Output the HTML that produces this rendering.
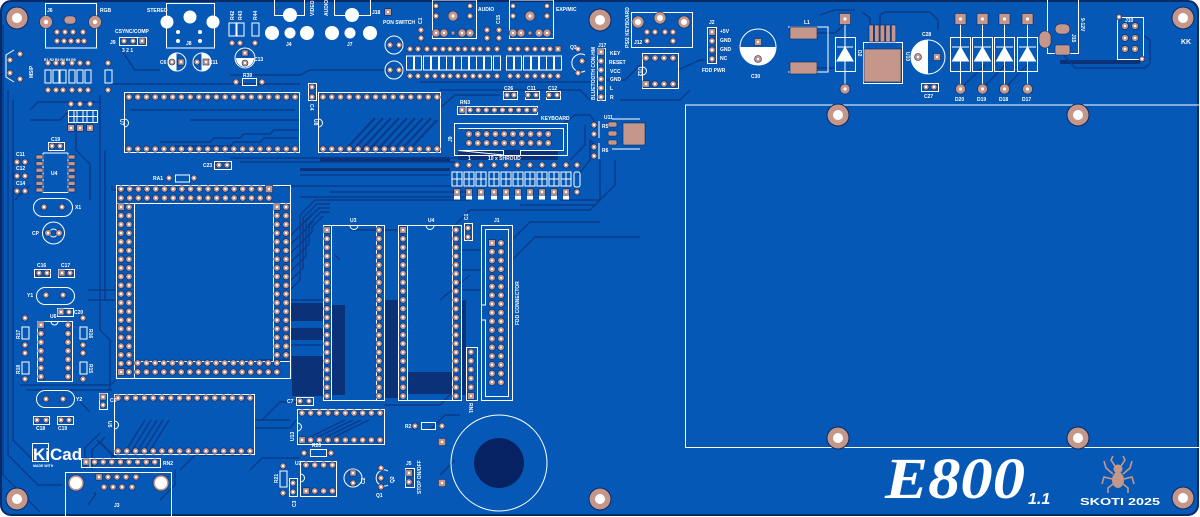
<!DOCTYPE html>
<html><head><meta charset="utf-8">
<style>
html,body{margin:0;padding:0;background:#fff;width:1200px;height:517px;overflow:hidden}
svg{display:block}
text{font-family:"Liberation Sans",sans-serif;font-weight:bold;fill:#fff}
</style></head>
<body>
<svg id="s" xmlns="http://www.w3.org/2000/svg" width="1200" height="517" viewBox="0 0 1200 517">
<!-- board -->
<rect x="1" y="1" width="1197" height="514" rx="10" fill="#0558b5" stroke="#0a2a66" stroke-width="2"/>

<!-- dark fill zones -->
<g fill="#0b3279">
<rect x="290" y="303" width="33" height="18"/>
<rect x="290" y="328" width="33" height="12"/>
<rect x="292" y="356" width="31" height="40"/>
<rect x="331" y="305" width="14" height="90"/>
<rect x="384" y="300" width="14" height="98"/>
<rect x="407" y="372" width="45" height="22"/>
<rect x="461" y="300" width="5" height="95"/>
<rect x="320" y="157" width="130" height="5"/>
<rect x="300" y="168" width="150" height="3"/>
<rect x="458" y="150" width="100" height="10"/>
<rect x="1060" y="60" width="80" height="4"/>
</g>
<circle cx="499" cy="463" r="25" fill="#072262"/>

<!-- traces -->
<g fill="none" stroke="#0a3a8a" stroke-width="1.4">
<path d="M3,25 V475 L40,512"/>
<path d="M8,90 V455 L38,485 H62"/>
<path d="M13,100 V440 L35,462"/>
<path d="M100,95 V330 L110,340 V390"/>
<path d="M105,150 V300"/>
<path d="M88,290 H115"/>
<path d="M88,300 H115"/>
<path d="M30,110 L38,102 H100"/>
<path d="M110,84 H300"/>
<path d="M230,75 H300 L310,70 H390"/>
<path d="M120,48 L135,70 H160"/>
<path d="M160,142 H210 L214,138 H240 L244,134 H270 L274,130 H300"/>
<path d="M175,146 H230 L234,142 H260 L264,138 H298"/>
<path d="M190,120 H300"/>
<path d="M130,110 H295"/>
<path d="M230,158 H460"/>
<path d="M240,162 H455"/>
<path d="M300,175 H450"/>
<path d="M130,190 H112 V186"/>
<path d="M280,186 H470"/>
<path d="M330,192 H470"/>
<path d="M300,197 H470"/>
<path d="M290,290 L300,280 V215 L315,200 H470"/>
<path d="M290,281 L303,268 V218 L317,204 H330"/>
<path d="M290,272 L306,256 V221 L319,208 H330"/>
<path d="M290,263 L309,244 V224 L321,212 H330"/>
<path d="M290,254 L312,232 V227 L323,216"/>
<path d="M290,245 L314,221"/>
<path d="M290,236 L312,214"/>
<path d="M290,300 H323"/>
<path d="M290,345 H323"/>
<path d="M461,250 H481"/>
<path d="M461,270 H481"/>
<path d="M461,290 H481"/>
<path d="M440,300 L470,275"/>
<path d="M455,225 L470,210 H590 L600,200 V160"/>
<path d="M564,123 L575,115 H590 L597,125"/>
<path d="M570,160 L585,145 V125"/>
<path d="M578,175 L590,160 V140 L597,147"/>
<path d="M605,80 H625 L640,65"/>
<path d="M678,70 L700,60 H705"/>
<path d="M620,100 H680 L690,90"/>
<path d="M420,82 H600"/>
<path d="M440,90 H580 L590,100"/>
<path d="M820,15 L835,10 H855"/>
<path d="M880,25 V15 L885,12 H930 L938,20 V30"/>
<path d="M870,25 V18 L862,12"/>
<path d="M1062,53 L1075,68 H1145 L1150,63 V40 L1143,35"/>
<path d="M960,89 L985,65"/>
<path d="M982,89 L1005,65"/>
<path d="M1004,89 L1027,65"/>
<path d="M817,33 H835 L845,24"/>
<path d="M817,68 H836"/>
<path d="M125,452 L145,420"/><path d="M131,452 L151,420"/><path d="M137,452 L157,420"/><path d="M143,452 L163,420"/><path d="M149,452 L169,420"/>
<path d="M310,437 L345,420"/><path d="M318,437 L353,420"/><path d="M326,437 L361,420"/><path d="M334,437 L369,420"/>
<path d="M85,470 V448 L100,433"/>
<path d="M92,470 V450 L105,437"/>
<path d="M88,505 L95,495 V492"/>
<path d="M160,500 L175,485 V470"/>
<path d="M255,420 H290"/>
<path d="M255,428 H290 L296,420"/>
<path d="M384,405 H440 L460,385"/>
<path d="M430,430 L445,415 H460"/>
<path d="M440,475 L455,460"/>
<path d="M340,260 L335,255"/><path d="M350,230 L400,230"/>
<path d="M20,385 H110 L116,380"/>
<path d="M26,390 H112"/>
<path d="M90,412 L80,402"/>
<path d="M260,360 H290"/>
<path d="M262,420 L280,402 H296"/>
<path d="M97,440 L112,455 V462"/>
<path d="M100,442 L118,460"/>
<path d="M250,470 L262,458 H300"/>
<path d="M180,470 L195,455 H250"/>
<path d="M560,200 H600 L615,185 V160"/>
<path d="M520,205 H595"/>
<path d="M512,240 L530,222 H600"/>
<path d="M512,260 L535,237 H640"/>
<path d="M440,108 L455,95 H500"/>
<path d="M30,120 H60 L68,112"/>
<path d="M15,200 L30,185"/>
<path d="M76,130 V150 L90,164 V200"/>
</g>
<g fill="none" stroke="#0a3a8a" stroke-width="2.2">
<path d="M345,150 L375,118"/><path d="M353,150 L383,118"/><path d="M361,150 L391,118"/><path d="M369,150 L399,118"/><path d="M377,150 L407,118"/><path d="M385,150 L415,118"/><path d="M393,150 L423,118"/><path d="M401,150 L431,118"/><path d="M409,150 L437,120"/>
</g>

<!-- LCD outline -->
<path d="M1199,105 H685.5 V447.5 H1199" fill="none" stroke="#fff" stroke-width="1"/>

<!-- silkscreen -->
<g fill="none" stroke="#fff" stroke-width="1">
<rect x="45.5" y="3.5" width="51" height="44.5"/>
<rect x="119.5" y="37.5" width="27" height="8"/><line x1="137.5" y1="37.5" x2="137.5" y2="45.5"/>
<rect x="45" y="70" width="6" height="13"/><rect x="53" y="70" width="6" height="13"/><rect x="60" y="70" width="6" height="13"/><rect x="69" y="70" width="6" height="13"/><rect x="77" y="70" width="6" height="13"/><rect x="85" y="70" width="6" height="13"/>
<rect x="105" y="70" width="7" height="13"/>
<rect x="68.5" y="110.5" width="29" height="12"/><line x1="74" y1="110" x2="74" y2="123"/><line x1="77" y1="110" x2="77" y2="123"/><line x1="83" y1="110" x2="83" y2="123"/><line x1="87" y1="110" x2="87" y2="123"/><line x1="93" y1="110" x2="93" y2="123"/><line x1="68" y1="116.5" x2="98" y2="116.5"/>
<path d="M14,50 L6,55 V77 L14,82"/>
<path d="M43,153 H68 M43,192.5 H68 M43,153 V193 M68,153 V193"/>
<rect x="33.5" y="198.5" width="39" height="18" rx="9"/>
<circle cx="53.5" cy="233" r="11"/><circle cx="53.5" cy="233" r="4"/>
<rect x="36.5" y="287.5" width="38" height="17" rx="8.5"/>
<rect x="36.5" y="390.5" width="38" height="17" rx="8.5"/>
<rect x="34.5" y="269.5" width="16" height="8"/><rect x="58.5" y="269.5" width="16" height="8"/>
<rect x="57.5" y="308.5" width="16" height="8"/>
<rect x="33.5" y="416.5" width="16" height="8"/><rect x="57.5" y="416.5" width="16" height="8"/>
<rect x="48.5" y="142.5" width="16" height="8"/>
<rect x="37.5" y="321.5" width="35" height="60"/>
<path d="M51,321.5 A3.5,3.5 0 0 0 58,321.5"/>
<rect x="22" y="327" width="7" height="12"/><rect x="22" y="362" width="7" height="12"/>
<rect x="80" y="327" width="7" height="12"/><rect x="80" y="362" width="7" height="12"/>
<rect x="116.5" y="185.5" width="174" height="193"/>
<rect x="134.5" y="203.5" width="139" height="158"/>
<path d="M116.5,203.5 H134.5 M273.5,203.5 H290.5 M134.5,361.5 V378 M273.5,361.5 H290.5"/>
<rect x="175.5" y="175" width="14" height="7"/>
<rect x="214.5" y="161.5" width="17" height="8"/>
<rect x="166.5" y="3.5" width="48" height="44.5"/>
<circle cx="177" cy="62" r="9"/><circle cx="202" cy="62" r="9"/><circle cx="245" cy="58" r="10"/>
<circle cx="394" cy="45" r="9"/><circle cx="394" cy="70" r="9"/>
<rect x="229" y="23" width="7" height="13"/><rect x="237" y="23" width="7" height="13"/><rect x="252" y="23" width="7" height="13"/>
<path d="M274.5,0 V15.5 H304.5 V0"/><path d="M334.5,0 V15.5 H370.5 V0"/>
<rect x="242.5" y="78.5" width="14" height="7"/>
<rect x="308.5" y="83.5" width="8" height="17"/>
<rect x="124.5" y="92.5" width="175" height="60"/>
<path d="M124.5,119 A4,4 0 0 1 124.5,127"/>
<rect x="318.5" y="92.5" width="122" height="60"/>
<path d="M318.5,119 A4,4 0 0 1 318.5,127"/>
<rect x="432.5" y="0" width="44" height="38.5"/><rect x="509.5" y="0" width="44" height="38.5"/>
<g id="rb"></g>
<rect x="457.5" y="106.5" width="80" height="8"/><line x1="466" y1="106" x2="466" y2="115"/>
<rect x="454.5" y="123.5" width="113" height="32"/>
<path d="M458.5,128.5 H563.5 V150.5 H520.5 V155 M503.5,155 V150.5 H458.5 Z"/>
<rect x="503.5" y="91.5" width="14" height="8"/><rect x="525.5" y="91.5" width="14" height="8"/><rect x="546.5" y="91.5" width="14" height="8"/>
<rect x="597.5" y="48.5" width="8" height="52"/>
<path d="M585,55 A9,9 0 1 0 585,71"/>
<path d="M599,121 V138 M599,143 V159"/>
<path d="M612,119 H640 M612,149 H640"/>
<rect x="631.5" y="12.5" width="61" height="35"/>
<rect x="642.5" y="53.5" width="36" height="35"/>
<path d="M642.5,67 A4,4 0 0 1 642.5,75"/>
<rect x="707.5" y="27.5" width="9" height="36"/>
<circle cx="758" cy="47" r="18"/>
<path d="M788,27 H828 V72 H788"/>
<rect x="835.5" y="37.5" width="20" height="34"/>
<rect x="863.5" y="42.5" width="39" height="41"/>
<circle cx="928" cy="57" r="17"/>
<rect x="950.5" y="37.5" width="20" height="34"/><rect x="972.5" y="37.5" width="20" height="34"/><rect x="994.5" y="37.5" width="20" height="34"/><rect x="1017.5" y="37.5" width="20" height="34"/>
<rect x="921.5" y="83.5" width="17" height="8"/>
<path d="M1047.5,0 V53.5 H1078.5 V0"/>
<rect x="1117.5" y="17.5" width="26" height="42"/>
<rect x="323.5" y="225.5" width="61" height="175"/><path d="M331.5,225.5 V400.5 M376.5,225.5 V400.5"/>
<path d="M350,225.5 A4,4 0 0 0 358,225.5"/>
<rect x="398.5" y="225.5" width="63" height="175"/><path d="M407.5,225.5 V400.5 M452.5,225.5 V400.5"/>
<path d="M426,225.5 A4,4 0 0 0 434,225.5"/>
<rect x="481.5" y="225.5" width="31" height="175"/>
<path d="M485.5,229.5 H508.5 V396.5 H485.5 V320 H481.5 M481.5,305 H485.5 V229.5"/>
<rect x="466.5" y="347.5" width="11" height="53"/>
<rect x="464.5" y="223.5" width="8" height="17"/>
<rect x="114.5" y="394.5" width="140" height="60"/>
<path d="M114.5,421 A4,4 0 0 1 114.5,429"/>
<rect x="99.5" y="393.5" width="8" height="16"/>
<rect x="81.5" y="458.5" width="79" height="9"/><line x1="90" y1="458" x2="90" y2="467"/>
<path d="M65.5,517 V472.5 H171.5 V517"/>
<rect x="297.5" y="409.5" width="87" height="35"/>
<path d="M297.5,423 A4,4 0 0 1 297.5,431"/>
<rect x="296.5" y="397.5" width="17" height="8"/>
<rect x="421.5" y="422.5" width="14" height="7"/>
<rect x="310.5" y="449.5" width="16" height="7"/>
<rect x="300.5" y="461.5" width="36" height="35"/>
<path d="M300.5,474 A4,4 0 0 1 300.5,482"/>
<rect x="280" y="471" width="7" height="16"/>
<rect x="289.5" y="478.5" width="8" height="18"/>
<circle cx="353" cy="478" r="9"/>
<path d="M388,471 A8,8 0 1 0 388,485"/>
<rect x="405.5" y="468.5" width="9" height="19"/>
<circle cx="499" cy="463" r="48"/>
<rect x="32.5" y="443.5" width="16" height="18"/>
</g>
<g fill="#fff">
<circle cx="167" cy="22" r="6.5"/><circle cx="190" cy="17" r="6.5"/><circle cx="213" cy="22" r="6.5"/>
<circle cx="178" cy="32" r="2"/><circle cx="200" cy="32" r="2"/><circle cx="178" cy="41" r="2"/><circle cx="200" cy="41" r="2"/>
<circle cx="272" cy="33" r="7"/><circle cx="290" cy="15" r="7"/><circle cx="307" cy="33" r="7"/><circle cx="290" cy="33" r="5.5"/>
<circle cx="332" cy="33" r="7"/><circle cx="352" cy="15" r="7"/><circle cx="370" cy="33" r="7"/><circle cx="350" cy="33" r="5.5"/>
<path d="M758,47 H776 A18,18 0 0 1 740,47 Z"/>
<path d="M928,40 A17,17 0 0 0 928,74 Z"/>
<path d="M176.5,53 A9,9 0 0 0 176.5,71 Z"/>
<path d="M201.5,53 A9,9 0 0 1 201.5,71 Z"/>
<path d="M236,58 A9,9 0 0 0 254,58 Z"/>
</g>
<g fill="#fff" stroke="#fff" stroke-width="1">
<path d="M845,47 L837,61 H853 Z"/><line x1="837" y1="47" x2="853" y2="47"/>
<path d="M960.5,47 L952.5,61 H968.5 Z"/><line x1="952" y1="47" x2="969" y2="47"/>
<path d="M982.5,47 L974.5,61 H990.5 Z"/><line x1="974" y1="47" x2="991" y2="47"/>
<path d="M1004.5,47 L996.5,61 H1012.5 Z"/><line x1="996" y1="47" x2="1013" y2="47"/>
<path d="M1027.5,47 L1019.5,61 H1035.5 Z"/><line x1="1019" y1="47" x2="1036" y2="47"/>
</g>
<g stroke="#fff" stroke-width="1">
<line x1="845" y1="24" x2="845" y2="84"/><line x1="960.5" y1="24" x2="960.5" y2="84"/><line x1="982.5" y1="24" x2="982.5" y2="84"/><line x1="1004.5" y1="24" x2="1004.5" y2="84"/><line x1="1027.5" y1="24" x2="1027.5" y2="84"/>
</g>

<g id="pads"></g>

<g fill="#c4978a" stroke="#c4978a">
<ellipse cx="1118" cy="480" rx="6" ry="8" stroke="none"/>
<circle cx="1118" cy="469" r="4.5" stroke="none"/>
<g fill="none" stroke-width="1.6">
<path d="M1113,474 L1106,468 L1104,461"/><path d="M1112,479 L1104,477 L1102,484"/><path d="M1113,484 L1108,488 L1108,493"/>
<path d="M1123,474 L1130,468 L1132,461"/><path d="M1124,479 L1132,477 L1134,484"/><path d="M1123,484 L1128,488 L1128,493"/>
<path d="M1115,466 L1111,460 L1113,456"/><path d="M1121,466 L1125,460 L1123,456"/>
</g>
</g>

<g font-size="5">
<text x="47" y="12">J6</text><text x="100" y="12">RGB</text>
<text x="115" y="33">CSYNC/COMP</text><text x="110" y="44">J9</text><text x="122" y="52">3  2  1</text>
<text x="44" y="61" font-size="3.5">R1 R2 R3 R4 R5 R6</text>
<text transform="rotate(-90 33 78)" x="33" y="78">MSIP</text>
<text x="147" y="12">STEREO</text><text x="186" y="45">J8</text>
<text transform="rotate(-90 234 20)" x="234" y="20">R42</text>
<text transform="rotate(-90 242 20)" x="242" y="20">R43</text>
<text transform="rotate(-90 257 20)" x="257" y="20">R44</text>
<text transform="rotate(-90 314 16)" x="314" y="16">VIDEO</text>
<text transform="rotate(-90 328 16)" x="328" y="16">AUDIO</text>
<text x="286" y="46">J4</text><text x="347" y="46">J7</text>
<text x="372" y="14">J18</text><text x="383" y="24">PON SWITCH</text>
<text x="160" y="64">C6</text><text x="209" y="64">C11</text><text x="254" y="61">C13</text>
<text x="243" y="77">R39</text>
<text transform="rotate(90 120 119)" x="120" y="119">U7</text>
<text transform="rotate(90 314 119)" x="314" y="119">U8</text>
<text transform="rotate(90 310 104)" x="310" y="104">C4</text>
<text x="203" y="167">C23</text><text x="153" y="180">RA1</text>
<text x="51" y="141">C19</text><text x="16" y="156">C11</text><text x="16" y="170">C12</text><text x="16" y="185">C14</text>
<text x="51" y="175">U4</text>
<text x="75" y="209">X1</text><text x="32" y="235">CP</text>
<text x="37" y="267">C16</text><text x="61" y="267">C17</text>
<text x="27" y="297">Y1</text><text x="74" y="314">C20</text>
<text x="50" y="318">U6</text>
<text transform="rotate(-90 20 339)" x="20" y="339">R17</text>
<text transform="rotate(-90 20 374)" x="20" y="374">R18</text>
<text transform="rotate(90 89 329)" x="89" y="329">R16</text>
<text transform="rotate(90 89 364)" x="89" y="364">R15</text>
<text x="76" y="401">Y2</text>
<text x="36" y="430">C18</text><text x="58" y="430">C19</text>
<text x="350" y="222">U3</text><text x="428" y="222">U4</text>
<text x="494" y="222">J1</text>
<text transform="rotate(-90 468 220)" x="468" y="220">C1</text>
<text transform="rotate(-90 519 325)" x="519" y="325">FDD CONNECTOR</text>
<text transform="rotate(90 469 403)" x="469" y="403">RN1</text>
<text transform="rotate(90 108 421)" x="108" y="421">U5</text>
<text x="110" y="402">C5</text>
<text x="163" y="465">RN2</text><text x="114" y="507">J3</text>
<text transform="rotate(-90 294 441)" x="294" y="441">U13</text>
<text x="287" y="403">C7</text><text x="405" y="428">R2</text>
<text x="312" y="447">R20</text><text x="295" y="465">U2</text>
<text transform="rotate(-90 278 483)" x="278" y="483">R21</text>
<text transform="rotate(-90 296 507)" x="296" y="507">C3</text>
<text transform="rotate(-90 365 484)" x="365" y="484">C2</text>
<text x="376" y="497">Q1</text>
<text transform="rotate(-90 394 483)" x="394" y="483">Q2</text>
<text x="406" y="465">J5</text>
<text transform="rotate(-90 421 494)" x="421" y="494">STOP ON/OFF</text>
<text x="478" y="11">AUDIO</text><text x="556" y="11">EXP/MIC</text>
<text transform="rotate(-90 422 24)" x="422" y="24">C1</text>
<text transform="rotate(-90 500 24)" x="500" y="24">C15</text>
<text x="504" y="90">C26</text><text x="527" y="90">C11</text><text x="548" y="90">C12</text>
<text x="460" y="104">RN3</text><text x="541" y="120">KEYBOARD</text>
<text transform="rotate(-90 452 142)" x="452" y="142">J9</text>
<text x="488" y="160">10 x SHROUD</text><text x="468" y="160">1</text>
<text x="598" y="47">J17</text>
<text transform="rotate(-90 595 100)" x="595" y="100">BLUETOOTH CON-HM</text>
<text x="610" y="55">KEY</text><text x="609" y="64">RESET</text><text x="610" y="73">VCC</text><text x="610" y="81">GND</text><text x="610" y="90">L</text><text x="610" y="99">R</text>
<text x="570" y="49">Q3</text>
<text transform="rotate(-90 629 48)" x="629" y="48">PS/2 KEYBOARD</text>
<text x="634" y="44">J12</text>
<text transform="rotate(90 638 67)" x="638" y="67">U12</text>
<text x="709" y="24">J2</text>
<text x="720" y="33">+5V</text><text x="720" y="42">GND</text><text x="720" y="51">GND</text><text x="720" y="60">NC</text>
<text x="702" y="72">FDD PWR</text>
<text x="751" y="78">C30</text>
<text x="604" y="119">U11</text>
<text x="602" y="128">R5</text><text x="602" y="152">R6</text>
<text x="804" y="24">L1</text>
<text transform="rotate(90 858 50)" x="858" y="50">D2</text>
<text transform="rotate(90 906 52)" x="906" y="52">U10</text>
<text x="922" y="36">C28</text><text x="924" y="98">C27</text>
<text x="955" y="101">D20</text><text x="977" y="101">D19</text><text x="999" y="101">D18</text><text x="1022" y="101">D17</text>
<text transform="rotate(90 1081 18)" x="1081" y="18">9-12V</text>
<text transform="rotate(90 1072 34)" x="1072" y="34">J15</text>
<text x="1125" y="22">J10</text>
<text x="1181" y="44" font-size="7">KK</text>
</g>
<text x="33" y="460" font-size="17">KiCad</text>
<text x="33" y="467" font-size="3.5">MADE WITH</text>
<text x="885" y="498" font-size="58" font-style="italic" font-weight="bold" textLength="140" lengthAdjust="spacingAndGlyphs" style="font-family:'Liberation Serif',serif">E800</text>
<text x="1028" y="504" font-size="16" font-style="italic">1.1</text>
<text x="1080" y="505" font-size="10" textLength="80" lengthAdjust="spacingAndGlyphs">SKOTI 2025</text>
</svg>

<script>
(function(){
const S='http://www.w3.org/2000/svg';
const P=document.getElementById('pads');
const RB=document.getElementById('rb');
const CU='#c4978a', ED='#0a2a66';
function el(tag,a,par){const e=document.createElementNS(S,tag);for(const k in a)e.setAttribute(k,a[k]);(par||P).appendChild(e);return e;}
function pad(x,y,r,sq,h){r=r||3.3;if(h===undefined)h=1.2;
 if(sq)el('rect',{x:x-r,y:y-r,width:2*r,height:2*r,fill:CU,stroke:ED,'stroke-width':0.6});
 else el('circle',{cx:x,cy:y,r:r,fill:CU,stroke:ED,'stroke-width':0.6});
 if(h>0)el('circle',{cx:x,cy:y,r:h,fill:'#fff'});}
function row(x0,y,n,dx,r,sq){for(let i=0;i<n;i++)pad(x0+i*dx,y,r,sq&&i==0);}
function col(x,y0,n,dy,r,sq){for(let i=0;i<n;i++)pad(x,y0+i*dy,r,sq&&i==0);}
function hole(x,y){el('circle',{cx:x,cy:y,r:11,fill:CU,stroke:ED,'stroke-width':1});el('circle',{cx:x,cy:y,r:5,fill:'#fff'});}
function crect(x,y,w,h,rx){el('rect',{x:x,y:y,width:w,height:h,rx:rx||0,fill:CU,stroke:ED,'stroke-width':0.6});}

[[17,18],[17,499],[600,20],[600,499],[1183,18],[1183,498],[838,115],[1078,115],[838,438],[1078,438]].forEach(p=>hole(p[0],p[1]));

pad(46,22,6.5,false,2.2);pad(95,22,6.5,false,2.2);
crect(64,16,12,8,4);
[57,65,73,83].forEach(x=>pad(x,32,3));
[57,64,71,78,84].forEach(x=>pad(x,41,3));
pad(124,41,3);pad(133,41,3);pad(142,41,3,true);
[48,56,63,72,80,88].forEach(x=>{pad(x,63,3);pad(x,90,3);});
pad(108,63,3);pad(108,90,3);
[71,80,90].forEach(x=>{pad(x,104,3);pad(x,128,3.3,true);});
pad(20,54,3);pad(10,60,3);pad(10,73,3);pad(20,79,3);
pad(52,146,3);pad(60,146,3);
[162,176,191].forEach(y=>{pad(17,y,3);pad(25,y,3);});
for(let i=0;i<6;i++){crect(36,155+i*6.6,7,4);crect(68,155+i*6.6,7,4);}
pad(44,207,3);pad(62,207,3);
pad(48,233,3.3);pad(59,233,3.3);
pad(39,273,3);pad(47,273,3);pad(62,273,3,true);pad(70,273,3);
pad(46,295,3);pad(63,295,3);
pad(61,312,3,true);pad(69,312,3);
col(41,325,7,8.6,3.2,true);col(68,325,7,8.6,3.2);
pad(25,318,3);pad(25,345,3);pad(25,353,3);pad(25,379,3);
pad(83,318,3);pad(83,345,3);pad(83,353,3);pad(83,379,3);
pad(46,399,3);pad(63,399,3);
pad(37,420,3);pad(46,420,3);pad(61,420,3);pad(69,420,3);
row(121,189,18,8.7,3.2);pad(269,189,3.6,true);
row(121,198,18,8.7,3.2);
col(121,207,19,8.7,3.2,true);col(129,207,19,8.7,3.2);
col(277,207,18,8.7,3.2,true);col(286,207,18,8.7,3.2);
row(129,363,18,8.7,3.2);row(129,372,18,8.7,3.2);
pad(121,372,3.4,true);
pad(169,178,3);pad(194,178,3);pad(219,165,3);pad(227,165,3);
pad(172,62,3);pad(181,62,3,true);pad(197,62,3);pad(206,62,3,true);
pad(245,53,3,true);pad(245,63,3);
pad(390,45,3);pad(399,45,3);pad(390,70,3);pad(399,70,3);
pad(232,43,3);pad(240,43,3);pad(255,43,3);
pad(236,82,3);pad(262,82,3);
pad(312,87,3);pad(312,97,3);
pad(388,12,3.3,true);
row(129,97,20,8.74,3.2);row(129,149,20,8.74,3.2);
row(323,97,14,8.77,3.2);row(323,149,14,8.77,3.2);
[[436,476],[513,553]].forEach(a=>{const x0=a[0],x1=a[1]-6;
 pad(x0,6,2.8);pad(x1,6,2.8);pad(x0,16,3);pad(x1,16,3);pad((x0+x1)/2,16,5,false,1.6);
 pad(x0,33,4);pad(x0+8,33,4);pad((x0+x1)/2,33,2,false,0);pad(x1-8,33,4);pad(x1,33,4);});
pad(421,30,3);pad(421,38,3);pad(487,30,3);pad(487,38,3);pad(499,30,3);pad(499,38,3);
const rx=[410,418,427,435,443,450,458,465,473,480,488,497,510,518,527,535,543,550,558];
rx.forEach((x,i)=>{pad(x,49,3,i==rx.length-1);pad(x,76,3);
 el('rect',{x:x-3.5,y:56,width:7,height:14,fill:'none',stroke:'#fff','stroke-width':1},RB);});
pad(507,95,3);pad(514,95,3);pad(528,95,3);pad(536,95,3);pad(549,95,3);pad(557,95,3);
row(462,110,10,8.1,3,true);
row(469,134,10,8.8,3.3);row(469,143,10,8.8,3.3);
const lx=[457,469,481,494,506,518,530,542,554,566];
lx.forEach(x=>{pad(x,165,3);pad(x,192,3.2,true);
 el('rect',{x:x-5,y:172,width:10,height:7,fill:'none',stroke:'#fff','stroke-width':1},RB);
 el('rect',{x:x-5,y:179,width:10,height:7,fill:'none',stroke:'#fff','stroke-width':1},RB);
 el('line',{x1:x,y1:172,x2:x,y2:186,stroke:'#fff','stroke-width':1},RB);
 el('rect',{x:x-2.5,y:196,width:5,height:3,fill:'#fff'},RB);});
pad(577,165,3);pad(577,192,3);
el('rect',{x:574,y:172,width:6,height:15,rx:2,fill:'none',stroke:'#fff','stroke-width':1},RB);
pad(594,125,3);pad(594,134,3);pad(594,147,3);pad(594,156,3);
crect(608,122,9,5,2);crect(608,131,9,5,2);crect(608,140,9,5,2);
crect(623,123,22,22);
col(601,52,6,9,3.2,true);
pad(578,49,3);pad(582,61,3);pad(578,73,3);
pad(638,22,6,false,3);pad(660,18,6,false,3);pad(684,22,6,false,3);
[647,655,665,673].forEach(x=>pad(x,32,3));pad(647,41,3);pad(673,41,3);
row(646,58,4,9,3.2);row(646,84,4,9,3.2,true);
col(712,32,4,9,3.2,true);
pad(758,42,3.5,true);pad(758,59,3.5);
crect(790,27,27,12);crect(790,62,27,12);
pad(845,19,5.5,true,1.6);pad(845,89,5,false,1.6);
for(let i=0;i<5;i++)crect(869+i*5.6,25,4.4,17);
crect(864,49,37,33);
pad(918,57,3.5);pad(937,57,3.5,true);
pad(926,87,3);pad(934,87,3);
[960.5,982.5,1004.5,1027.5].forEach(x=>{pad(x,19,5.5,true,1.6);pad(x,89,5,false,1.6);});
crect(1039,31,12,17,6);crect(1055,24,15,10,5);crect(1055,45,15,10,2);
[26,38,49].forEach(y=>{pad(1125,y,3.4);pad(1135,y,3.4);});
pad(1119,17,2.8);pad(1142,59,2.8);
col(327,230,20,8.74,3.2,true);col(379,230,20,8.74,3.2);
col(403,230,20,8.74,3.2,true);col(456,230,20,8.74,3.2);
pad(468,228,3);pad(468,237,3);
col(492,243,17,8.7,3.3,true);col(501,243,17,8.7,3.3);
col(471,352,6,8.8,3.2);pad(471,396,3.4,true);
row(118,398,16,8.8,3.2);row(118,451,16,8.8,3.2);
pad(103,397,3,true);pad(103,405,3);
row(86,462,9,8.6,3.1,true);
pad(76,483,8,false,6);pad(161,483,8,false,6);
el('circle',{cx:76,cy:483,r:6,fill:'#fff'});el('circle',{cx:161,cy:483,r:6,fill:'#fff'});
[99,108,117,126,136].forEach((x,i)=>pad(x,477,3.1,i==0));
[104,113,122,132].forEach(x=>pad(x,487,3.1));
row(302,413,10,8.67,3.2);row(302,440,10,8.67,3.2,true);
pad(300,401,3);pad(309,401,3);
pad(415,426,3);pad(442,426,3);
pad(304,453,3);pad(331,453,3);
row(306,465,4,8.8,3.2);row(306,491,4,8.8,3.2,true);
pad(283,466,3);pad(283,493,3);
pad(293,483,3);pad(293,492,3);
pad(353,473,3,true);pad(353,483,3);
pad(381,468,3);pad(381,478,3);pad(381,487,3);
pad(409,473,3.2,true);pad(409,482,3.2);
pad(442,442,3.6,true);pad(442,483,3.6,true);
})();
</script>
</body></html>
